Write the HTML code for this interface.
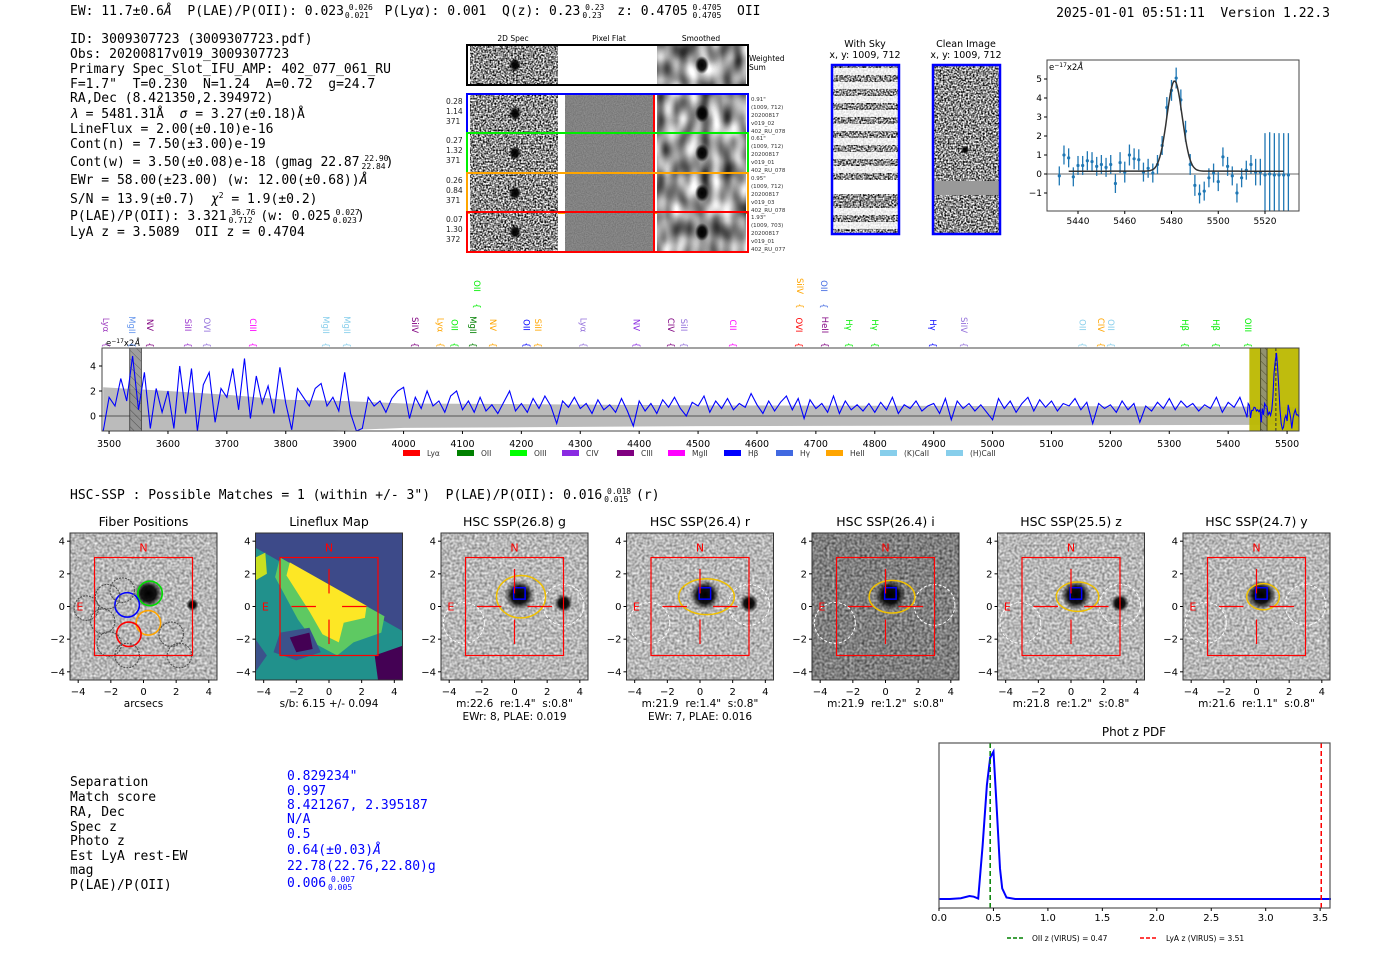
<!DOCTYPE html>
<html><head><meta charset="utf-8">
<style>
html,body{margin:0;padding:0;background:#fff;}
svg{display:block;}
text{white-space:pre;}
.m{font-family:"DejaVu Sans Mono","Liberation Mono",monospace;font-size:13px;fill:#000;}
.s{font-family:"DejaVu Sans","Liberation Sans",sans-serif;}
filter{color-interpolation-filters:sRGB;}
</style></head>
<body>
<svg id="root" width="1400" height="953" viewBox="0 0 1400 953" xmlns="http://www.w3.org/2000/svg" xml:space="preserve">
<defs>
<filter id="nLight" x="0" y="0" width="1" height="1" color-interpolation-filters="sRGB"><feTurbulence type="fractalNoise" baseFrequency="0.4" numOctaves="1" seed="4"/><feColorMatrix type="saturate" values="0"/><feComponentTransfer><feFuncR type="linear" slope="1.0" intercept="0.22"/><feFuncG type="linear" slope="1.0" intercept="0.22"/><feFuncB type="linear" slope="1.0" intercept="0.22"/><feFuncA type="linear" slope="0" intercept="1"/></feComponentTransfer></filter>
<filter id="nDark" x="0" y="0" width="1" height="1" color-interpolation-filters="sRGB"><feTurbulence type="fractalNoise" baseFrequency="0.4" numOctaves="1" seed="7"/><feColorMatrix type="saturate" values="0"/><feComponentTransfer><feFuncR type="linear" slope="1.0" intercept="0.0"/><feFuncG type="linear" slope="1.0" intercept="0.0"/><feFuncB type="linear" slope="1.0" intercept="0.0"/><feFuncA type="linear" slope="0" intercept="1"/></feComponentTransfer></filter>
<filter id="nSpec" x="0" y="0" width="1" height="1" color-interpolation-filters="sRGB"><feTurbulence type="fractalNoise" baseFrequency="0.6" numOctaves="1" seed="2"/><feColorMatrix type="saturate" values="0"/><feComponentTransfer><feFuncR type="linear" slope="3.2" intercept="-1.05"/><feFuncG type="linear" slope="3.2" intercept="-1.05"/><feFuncB type="linear" slope="3.2" intercept="-1.05"/><feFuncA type="linear" slope="0" intercept="1"/></feComponentTransfer></filter>
<filter id="nSmooth" x="0" y="0" width="1" height="1" color-interpolation-filters="sRGB"><feTurbulence type="fractalNoise" baseFrequency="0.09 0.05" numOctaves="1" seed="9"/><feColorMatrix type="saturate" values="0"/><feComponentTransfer><feFuncR type="linear" slope="2" intercept="-0.4"/><feFuncG type="linear" slope="2" intercept="-0.4"/><feFuncB type="linear" slope="2" intercept="-0.4"/><feFuncA type="linear" slope="0" intercept="1"/></feComponentTransfer></filter>
<filter id="nFlat" x="0" y="0" width="1" height="1" color-interpolation-filters="sRGB"><feTurbulence type="fractalNoise" baseFrequency="0.9" numOctaves="1" seed="5"/><feColorMatrix type="saturate" values="0"/><feComponentTransfer><feFuncR type="linear" slope="0.3" intercept="0.36"/><feFuncG type="linear" slope="0.3" intercept="0.36"/><feFuncB type="linear" slope="0.3" intercept="0.36"/><feFuncA type="linear" slope="0" intercept="1"/></feComponentTransfer></filter>
<radialGradient id="blob"><stop offset="0" stop-color="#000"/><stop offset="0.55" stop-color="#000" stop-opacity="0.9"/><stop offset="1" stop-color="#000" stop-opacity="0"/></radialGradient>
<pattern id="hatch" width="6" height="6" patternUnits="userSpaceOnUse" patternTransform="rotate(-45)"><rect width="6" height="6" fill="#888"/><line x1="0" y1="0" x2="0" y2="6" stroke="#333" stroke-width="1"/></pattern>
</defs>

<g>
<text class="m" x="70" y="15">EW: 11.7±0.6<tspan font-style="italic">Å</tspan>  P(LAE)/P(OII): 0.023<tspan font-size="8" dy="-5"> 0.026</tspan><tspan font-size="8" dx="-28" dy="8">0.021</tspan><tspan dy="-3">  P(Ly<tspan font-style="italic">α</tspan>): 0.001  Q(z): 0.23</tspan><tspan font-size="8" dy="-5"> 0.23</tspan><tspan font-size="8" dx="-22" dy="8">0.23</tspan><tspan dy="-3">  z: 0.4705</tspan><tspan font-size="8" dy="-5"> 0.4705</tspan><tspan font-size="8" dx="-29" dy="8">0.4705</tspan><tspan dy="-3">  OII</tspan></text>
<text class="m" x="1330" y="17" text-anchor="end">2025-01-01 05:51:11  Version 1.22.3</text>
</g>

<g>
<text class="m" x="70" y="43">ID: 3009307723 (3009307723.pdf)</text>
<text class="m" x="70" y="58">Obs: 20200817v019_3009307723</text>
<text class="m" x="70" y="73">Primary Spec_Slot_IFU_AMP: 402_077_061_RU</text>
<text class="m" x="70" y="88">F=1.7"  T=0.230  N=1.24  A=0.72  g=24.7</text>
<text class="m" x="70" y="102">RA,Dec (8.421350,2.394972)</text>
<text class="m" x="70" y="118"><tspan font-style="italic">λ</tspan> = 5481.31Å  <tspan font-style="italic">σ</tspan> = 3.27(±0.18)Å</text>
<text class="m" x="70" y="133">LineFlux = 2.00(±0.10)e-16</text>
<text class="m" x="70" y="148">Cont(n) = 7.50(±3.00)e-19</text>
<text class="m" x="70" y="166">Cont(w) = 3.50(±0.08)e-18 (gmag 22.87<tspan font-size="8" dy="-5"> 22.90</tspan><tspan font-size="8" dx="-27" dy="8">22.84</tspan><tspan dy="-3">)</tspan></text>
<text class="m" x="70" y="184">EWr = 58.00(±23.00) (w: 12.00(±0.68))<tspan font-style="italic">Å</tspan></text>
<text class="m" x="70" y="203">S/N = 13.9(±0.7)  <tspan font-style="italic">χ</tspan><tspan font-size="8" dy="-5">2</tspan><tspan dy="5"> = 1.9(±0.2)</tspan></text>
<text class="m" x="70" y="220">P(LAE)/P(OII): 3.321<tspan font-size="8" dy="-5"> 36.76</tspan><tspan font-size="8" dx="-27" dy="8">0.712</tspan><tspan dy="-3"> (w: 0.025</tspan><tspan font-size="8" dy="-5"> 0.027</tspan><tspan font-size="8" dx="-27" dy="8">0.023</tspan><tspan dy="-3">)</tspan></text>
<text class="m" x="70" y="236">LyA z = 3.5089  OII z = 0.4704</text>
</g>

<g id="cutouts"></g>
<g id="zoomplot"></g>
<g id="mainspec"></g>

<text class="m" x="70" y="499">HSC-SSP : Possible Matches = 1 (within +/- 3")  P(LAE)/P(OII): 0.016<tspan font-size="8" dy="-5"> 0.018</tspan><tspan font-size="8" dx="-27" dy="8">0.015</tspan><tspan dy="-3"> (r)</tspan></text>
<g id="hsc"></g>

<g>
<g class="m">
<text x="70" y="786">Separation</text>
<text x="70" y="801">Match score</text>
<text x="70" y="816">RA, Dec</text>
<text x="70" y="831">Spec z</text>
<text x="70" y="845">Photo z</text>
<text x="70" y="860">Est LyA rest-EW</text>
<text x="70" y="874">mag</text>
<text x="70" y="889">P(LAE)/P(OII)</text>
</g>
<g class="m" style="fill:#0000ff">
<text x="287" y="780" fill="#00f">0.829234"</text>
<text x="287" y="795" fill="#00f">0.997</text>
<text x="287" y="809" fill="#00f">8.421267, 2.395187</text>
<text x="287" y="823" fill="#00f">N/A</text>
<text x="287" y="838" fill="#00f">0.5</text>
<text x="287" y="854" fill="#00f">0.64(±0.03)<tspan font-style="italic">Å</tspan></text>
<text x="287" y="870" fill="#00f">22.78(22.76,22.80)g</text>
<text x="287" y="887" fill="#00f">0.006<tspan font-size="8" dy="-5"> 0.007</tspan><tspan font-size="8" dx="-27" dy="8">0.005</tspan></text>
</g>
</g>

<g id="photz"></g>
</svg>

<script>
// ===== Data =====
const specStart = 3490;
const specStep = 10;
const specFlux = [
-1.2,1.5,0.8,3.0,1.2,4.8,0.5,3.5,-1.0,2.2,0.3,
2.0,-1.0,4.0,0.2,3.8,-1.2,2.5,3.5,-0.5,2.2,
1.5,3.8,0.5,4.6,-0.2,3.2,1.0,2.4,0.2,3.9,
1.0,-1.1,2.2,1.5,0.8,2.2,2.6,0.8,1.5,0.4,
3.5,0.2,-1.2,-1.0,1.5,0.8,1.2,0.3,1.4,2.0,
2.3,-0.2,1.5,0.6,2.0,0.8,1.2,0.3,1.6,2.0,
0.5,1.2,0.3,1.5,0.4,0.9,0.2,1.1,2.0,0.4,
1.0,0.3,1.4,0.6,1.6,0.8,-0.6,1.2,0.7,1.5,
0.6,1.0,0.2,1.3,0.5,0.9,0.3,1.4,0.4,-0.8,
1.2,0.4,1.0,0.2,1.3,0.7,1.5,0.6,0.0,1.1,
0.8,1.6,0.3,1.2,0.6,1.4,0.5,1.0,0.7,1.8,
0.9,0.2,1.2,0.4,1.1,1.6,0.5,1.4,-0.2,1.3,
0.6,1.0,0.3,1.6,0.2,1.2,0.5,0.9,0.4,1.0,
0.3,1.1,0.5,1.5,0.2,0.9,0.6,1.2,0.4,0.8,
1.0,0.2,1.4,-0.3,1.2,0.6,1.0,0.4,0.9,0.3,
-0.3,1.4,0.6,1.2,0.3,1.0,1.5,0.4,1.3,0.7,
1.2,0.4,1.0,0.8,1.4,0.5,1.1,-0.6,1.0,0.6,
0.9,0.3,1.2,0.5,1.0,-0.5,0.8,0.4,1.1,0.6,
1.4,0.5,1.2,0.7,1.0,0.4,0.9,0.6,1.5,0.3,
1.1,0.7,1.5,0.2
];
const errWave = [3490,3600,3700,3800,3900,4000,4200,4500,5000,5440,5525];
const errVal  = [2.3,2.0,1.7,1.3,1.2,1.0,0.95,0.85,0.8,0.75,0.7];

const fitWave = [5432,5434,5436,5438,5440,5442,5444,5446,5448,5450,5452,5454,5456,5458,5460,5462,5464,5466,5468,5470,5472,5474,5476,5478,5480,5482,5484,5486,5488,5490,5492,5494,5496,5498,5500,5502,5504,5506,5508,5510,5512,5514,5516,5518,5520,5522,5524,5526,5528,5530];
const fitFlux = [-0.1,1.0,0.85,-0.15,0.45,0.45,0.7,0.65,0.4,0.5,0.35,0.5,-0.5,0.6,0.1,1.0,0.8,0.75,0.1,0.3,0.05,0.5,1.5,3.5,4.4,5.05,3.9,2.25,0.5,-0.6,-1.05,-0.9,-0.2,0.05,-0.4,0.9,0.4,-0.1,-1.0,-0.2,0.2,0.5,0.1,0.1,-0.05,0.0,-0.05,-0.05,-0.05,-0.05];
const fitErr  = [0.5,0.5,0.5,0.5,0.5,0.5,0.5,0.5,0.5,0.5,0.5,0.5,0.5,0.55,0.55,0.55,0.55,0.55,0.5,0.5,0.5,0.5,0.5,0.55,0.55,0.55,0.55,0.55,0.55,0.55,0.5,0.5,0.5,0.5,0.5,0.5,0.5,0.5,0.5,0.5,0.5,0.5,0.7,0.7,2.2,2.2,2.2,2.2,2.2,2.2];
const gaussCenter = 5481.31, gaussSigma = 3.27, gaussAmp = 4.75, gaussCont = 0.15;

const lineNames  = ["Lyα","MgII","NV","SiII","OVI","CIII","MgII","MgII","SiIV","Lyα","OII","MgII","NV","OII","SiII","Lyα","NV","CIV","SiII","CII","OVI","HeII","Hγ","Hγ","Hγ","SiIV","OII","CIV","OII","Hβ","Hβ","OIII","OII","SiIV","OII"];
const lineWaves  = [3490,3534,3564,3629,3661,3739,3863,3899,4014,4058,4081,4113,4147,4204,4223,4300,4390,4449,4471,4554,4666,4710,4751,4795,4894,4946,5148,5179,5196,5322,5374,5429,4120,4668,4709];
const lineColors = ["#a040c0","#6495ed","#800080","#9932cc","#9370db","#ff00ff","#87ceeb","#87ceeb","#800080","#ffa500","#00ee00","#008000","#ffa500","#0000ff","#ffa500","#9370db","#8a2be2","#800080","#9370db","#ff00ff","#ff0000","#800080","#00ee00","#00ee00","#0000ff","#9370db","#87ceeb","#ffa500","#87ceeb","#00ee00","#00ee00","#00ee00","#00ee00","#ffa500","#4169e1"];
const lineRow    = [0,0,0,0,0,0,0,0,0,0,0,0,0,0,0,0,0,0,0,0,0,0,0,0,0,0,0,0,0,0,0,0,1,1,1];

const legendNames  = ["Lyα","OII","OIII","CIV","CIII","MgII","Hβ","Hγ","HeII","(K)CaII","(H)CaII"];
const legendColors = ["#ff0000","#008000","#00ff00","#8a2be2","#800080","#ff00ff","#0000ff","#4169e1","#ffa500","#87ceeb","#87ceeb"];

const specTicks = [3500,3600,3700,3800,3900,4000,4100,4200,4300,4400,4500,4600,4700,4800,4900,5000,5100,5200,5300,5400,5500];
const specYTicks = [0,2,4];
const zoomXTicks = [5440,5460,5480,5500,5520];
const zoomYTicks = [-1,0,1,2,3,4,5];

const photZ = [0,0.1,0.2,0.28,0.32,0.36,0.40,0.44,0.47,0.50,0.53,0.56,0.58,0.62,0.7,1.0,2.0,3.0,3.6];
const photP = [0,0,0.005,0.02,0.015,0.003,0.35,0.75,0.93,0.97,0.6,0.2,0.07,0.01,0,0,0,0,0];
const photTicks = [0.0,0.5,1.0,1.5,2.0,2.5,3.0,3.5];
const oiiZ = 0.47, lyaZ = 3.51;

const panelTitles = ["Fiber Positions","Lineflux Map","HSC SSP(26.8) g","HSC SSP(26.4) r","HSC SSP(26.4) i","HSC SSP(25.5) z","HSC SSP(24.7) y"];
const panelSub1 = ["arcsecs","s/b: 6.15 +/- 0.094","m:22.6  re:1.4\"  s:0.8\"","m:21.9  re:1.4\"  s:0.8\"","m:21.9  re:1.2\"  s:0.8\"","m:21.8  re:1.2\"  s:0.8\"","m:21.6  re:1.1\"  s:0.8\""];
const panelSub2 = ["","","EWr: 8, PLAE: 0.019","EWr: 7, PLAE: 0.016","","",""];
const ellipseRx = [0,0,1.5,1.7,1.4,1.3,1.0];
const ellipseRy = [0,0,1.3,1.1,1.0,0.9,0.8];
const hscTicks = [-4,-2,0,2,4];

const fiberX = [0.4,-1.0,0.3,-0.9,-2.2,-3.5,-2.5,-2.1,-1.0,1.7,2.2,-1.3];
const fiberY = [0.8,0.1,-1.0,-1.7,0.6,-0.1,-0.9,-2.3,-3.0,-1.7,-3.0,1.0];
const fiberC = ["#00dd00","#0000ff","#ffa500","#ff0000","#555","#555","#555","#555","#555","#555","#555","#555"];

// ===== Helpers =====
const NS = "http://www.w3.org/2000/svg";
function mk(tag, attrs, parent){ const e=document.createElementNS(NS,tag); for(const k in attrs) e.setAttribute(k,attrs[k]); parent.appendChild(e); return e; }
function txt(str, attrs, parent){ const e=mk("text",attrs,parent); e.textContent=str; return e; }

// ===== Cutouts =====
(function(){
  const g=document.getElementById("cutouts");
  const hdr=[["2D Spec",513],["Pixel Flat",609],["Smoothed",701]];
  hdr.forEach(h=>{ const t=txt(h[0],{x:h[1],y:41,"text-anchor":"middle","font-size":"7.5",class:"s"},g);
    
     });
  const rows=[{y:46,h:38,c:"#000",l:null,info:null},
    {y:95,h:37,c:"#0000ff",l:["0.28","1.14","371"],info:["0.91\"","(1009, 712)","20200817","v019_02","402_RU_078"]},
    {y:134,h:38,c:"#00ee00",l:["0.27","1.32","371"],info:["0.61\"","(1009, 712)","20200817","v019_01","402_RU_078"]},
    {y:174,h:38,c:"#ffa500",l:["0.26","0.84","371"],info:["0.95\"","(1009, 712)","20200817","v019_03","402_RU_078"]},
    {y:213,h:38,c:"#ff0000",l:["0.07","1.30","372"],info:["1.93\"","(1009, 703)","20200817","v019_01","402_RU_077"]}];
  rows.forEach((r,i)=>{
    const rg=mk("g",{},g);
    
    
    mk("rect",{x:470,y:r.y,width:88,height:r.h,filter:"url(#nSpec)"},rg);
    mk("ellipse",{cx:515,cy:r.y+r.h/2,rx:6,ry:7,fill:"url(#blob)"},rg);
    if(i===0){ mk("rect",{x:560,y:r.y,width:96,height:r.h,fill:"#fff"},rg); }
    else { mk("rect",{x:565,y:r.y,width:88,height:r.h,filter:"url(#nFlat)"},rg); mk("line",{x1:654,y1:r.y,x2:654,y2:r.y+r.h,stroke:"#f00","stroke-width":2},rg); }
    mk("rect",{x:657,y:r.y,width:89,height:r.h,filter:"url(#nSmooth)"},rg);
    mk("ellipse",{cx:702,cy:r.y+r.h/2,rx:7,ry:9,fill:"url(#blob)"},rg);
    mk("rect",{x:467,y:r.y-1,width:281,height:r.h+2,fill:"none",stroke:r.c,"stroke-width":2},rg);
    if(r.l){ r.l.forEach((s,k)=>txt(s,{x:446,y:r.y+9+k*10,"font-size":"7.5",class:"s",fill:"#222"},rg)); }
    if(r.info){ r.info.forEach((s,k)=>txt(s,{x:751,y:r.y+6+k*8,"font-size":"5.5",class:"s",fill:"#333"},rg)); }
    else { txt("Weighted",{x:749,y:61,"font-size":"7.5",class:"s"},rg); txt("Sum",{x:749,y:70,"font-size":"7.5",class:"s"},rg); }
  });
  const sk=mk("g",{},g);
  
  
  txt("With Sky",{x:865,y:47,"text-anchor":"middle","font-size":"9.5",class:"s"},sk);
  txt("x, y: 1009, 712",{x:865,y:58,"text-anchor":"middle","font-size":"9.5",class:"s"},sk);
  mk("rect",{x:832,y:65,width:67,height:169,filter:"url(#nSpec)"},sk);
  for(let k=0;k<12;k++){ if(k===9) continue; mk("rect",{x:832,y:68+k*14,width:67,height:7,fill:"#fff",opacity:0.85},sk); }
  mk("rect",{x:832,y:180,width:67,height:14,fill:"#fff"},sk);
  mk("rect",{x:832,y:65,width:67,height:169,fill:"none",stroke:"#00f","stroke-width":2.5},sk);
  const cl=mk("g",{},g);
  
  
  txt("Clean Image",{x:966,y:47,"text-anchor":"middle","font-size":"9.5",class:"s"},cl);
  txt("x, y: 1009, 712",{x:966,y:58,"text-anchor":"middle","font-size":"9.5",class:"s"},cl);
  mk("rect",{x:933,y:65,width:67,height:169,filter:"url(#nSpec)"},cl);
  mk("rect",{x:933,y:181,width:67,height:14,fill:"#999"},cl);
  mk("ellipse",{cx:965,cy:150,rx:4,ry:4,fill:"url(#blob)"},cl);
  mk("rect",{x:933,y:65,width:67,height:169,fill:"none",stroke:"#00f","stroke-width":2.5},cl);
})();

// ===== Zoom fit plot =====
(function(){
  const g=document.getElementById("zoomplot");
  const L=1047,R=1299,T=60,B=211;
  const zx=w=>1078+(w-5440)*2.3375, zy=f=>174-f*19;
  mk("line",{x1:L,y1:zy(0),x2:R,y2:zy(0),stroke:"#888","stroke-width":1.2},g);
  fitWave.forEach((w,i)=>{
    const lo=Math.min(zy(fitFlux[i]-fitErr[i]),B), hi=zy(fitFlux[i]+fitErr[i]);
    const e=mk("line",{x1:zx(w),y1:lo,x2:zx(w),y2:hi,stroke:"#1f77b4","stroke-width":1.3},g);
    
    
    const p=mk("circle",{cx:zx(w),cy:zy(fitFlux[i]),r:1.6,fill:"#1f77b4"},g);
    
    
  });
  let d="";
  for(let w=5436;w<=5528;w+=0.5){ const f=gaussCont+gaussAmp*Math.exp(-0.5*Math.pow((w-gaussCenter)/gaussSigma,2)); d+=(d?"L":"M")+zx(w).toFixed(1)+","+zy(f).toFixed(1); }
  const fit=mk("path",{d:d,fill:"none",stroke:"#333","stroke-width":1.5},g);
  
  
  mk("rect",{x:L,y:T,width:R-L,height:B-T,fill:"none",stroke:"#444","stroke-width":1},g);
  zoomXTicks.forEach(t=>{ mk("line",{x1:zx(t),y1:B,x2:zx(t),y2:B+3,stroke:"#000"},g);
    const tl=txt(String(t),{x:zx(t),y:224,"text-anchor":"middle","font-size":"9",class:"s"},g);
    
     });
  zoomYTicks.forEach(t=>{ mk("line",{x1:L-3,y1:zy(t),x2:L,y2:zy(t),stroke:"#000"},g);
    const tl=txt(t<0?"−"+(-t):String(t),{x:L-5,y:zy(t)+3,"text-anchor":"end","font-size":"9",class:"s"},g);
    
     });
  const u=txt("e",{x:1049,y:70,"font-size":"8.5",class:"s"},g);
  u.innerHTML='e<tspan font-size="6" dy="-3">−17</tspan><tspan dy="3">x2</tspan><tspan font-style="italic">Å</tspan>';
  
  
})();

// ===== Main spectrum =====
(function(){
  const g=document.getElementById("mainspec");
  const L=102,R=1299,T=348,B=431;
  const sx=w=>102+(w-3488)*0.589, sy=f=>416-f*12.5;
  const clip=mk("clipPath",{id:"specclip"},g); mk("rect",{x:L,y:T,width:R-L,height:B-T},clip);
  const cg=mk("g",{"clip-path":"url(#specclip)"},g);
  let up="",dn="";
  for(let i=0;i<errWave.length;i++){ up+=(i?"L":"M")+sx(errWave[i]).toFixed(1)+","+sy(errVal[i]).toFixed(1); }
  for(let i=errWave.length-1;i>=0;i--){ dn+="L"+sx(errWave[i]).toFixed(1)+","+sy(-errVal[i]*0.95).toFixed(1); }
  const band=mk("path",{d:up+dn+"Z",fill:"#bbbbbb"},cg);
  
  
  mk("line",{x1:L,y1:sy(0),x2:R,y2:sy(0),stroke:"#777","stroke-width":1.5},cg);
  const yw=mk("rect",{x:sx(5436),y:T,width:sx(5525)-sx(5436),height:B-T,fill:"#bcb800",opacity:0.95},cg);
  
  
  mk("rect",{x:sx(3535),y:T,width:sx(3555)-sx(3535),height:B-T,fill:"url(#hatch)",opacity:0.8,stroke:"#333"},cg);
  mk("rect",{x:sx(5455),y:T,width:sx(5466)-sx(5455),height:B-T,fill:"url(#hatch)",opacity:0.8,stroke:"#333"},cg);
  mk("line",{x1:sx(5481),y1:T,x2:sx(5481),y2:B,stroke:"#333","stroke-dasharray":"3,2"},cg);
  let d="";
  specFlux.forEach((f,i)=>{ const w=specStart+i*specStep; if(w<5432) d+=(d?"L":"M")+sx(w).toFixed(1)+","+sy(f).toFixed(1); });
  fitWave.forEach((w,i)=>{ if(w<=5525) d+="L"+sx(w).toFixed(1)+","+sy(fitFlux[i]).toFixed(1); });
  const ln=mk("path",{d:d,fill:"none",stroke:"#0000ff","stroke-width":1.1},cg);
  
  
  mk("rect",{x:L,y:T,width:R-L,height:B-T,fill:"none",stroke:"#444","stroke-width":1},g);
  specTicks.forEach(t=>{ mk("line",{x1:sx(t),y1:B,x2:sx(t),y2:B+3,stroke:"#000"},g);
    const tl=txt(String(t),{x:sx(t),y:447,"text-anchor":"middle","font-size":"9.5",class:"s"},g);
    
     });
  specYTicks.forEach(t=>{ mk("line",{x1:L-3,y1:sy(t),x2:L,y2:sy(t),stroke:"#000"},g);
    const tl=txt(String(t),{x:L-6,y:sy(t)+3.5,"text-anchor":"end","font-size":"9.5",class:"s"},g);
    
     });
  const u=txt("e",{x:106,y:346,"font-size":"8.5",class:"s"},g);
  u.innerHTML='e<tspan font-size="6" dy="-3">−17</tspan><tspan dy="3">x2</tspan><tspan font-style="italic">Å</tspan>';
  
  
  lineNames.forEach((n,i)=>{
    const x=sx(lineWaves[i]); const yc=lineRow[i]?291:330;
    const lg=mk("g",{},g);
    
    
    txt(n,{x:x+3,y:yc-8,"font-size":"8.5",class:"s",fill:lineColors[i],transform:`rotate(90 ${x} ${yc-8})`,"text-anchor":"middle"},lg);
    txt("{",{x:x+3,y:yc+12,"font-size":"8.5",class:"s",fill:lineColors[i],transform:`rotate(90 ${x} ${yc+12})`,"text-anchor":"middle"},lg);
  });
  const lx=[403,457,510,562,617,668,724,776,826,880,946];
  legendNames.forEach((n,i)=>{
    const lg=mk("g",{},g);
    
    
    mk("rect",{x:lx[i],y:450,width:17,height:6,fill:legendColors[i]},lg);
    txt(n,{x:lx[i]+24,y:456,"font-size":"7.5",class:"s",fill:"#333"},lg);
  });
})();

// ===== HSC panels =====
(function(){
  const g=document.getElementById("hsc");
  panelTitles.forEach((title,i)=>{
    const x0=70+i*185.5, y0=533, W=147;
    const px=v=>x0+W/2+v*16.33, py=v=>y0+W/2-v*16.33;
    const pg=mk("g",{},g);
    
    
    const t=txt(title,{x:x0+W/2,y:526,"text-anchor":"middle","font-size":"12.5",class:"s"},pg);
    
    
    if(i===1){
      mk("rect",{x:x0,y:y0,width:W,height:W,fill:"#3d4a89"},pg);
      const poly=(pts,fill)=>mk("polygon",{points:pts.map(p=>px(p[0]).toFixed(1)+","+py(p[1]).toFixed(1)).join(" "),fill:fill},pg);
      poly([[-4.5,3.6],[4.5,-1.5],[4.5,-4.5],[-4.5,-4.5]],"#21918c");
      poly([[-4.5,3.0],[-3.9,3.3],[-3.8,2.0],[-4.5,1.6]],"#c8e020");
      poly([[-3.0,3.0],[3.4,-0.6],[3.2,-1.6],[1.5,-2.2],[0.5,-3.0],[-0.8,-2.3],[-1.9,-0.8],[-3.3,1.8]],"#5ec962");
      poly([[-2.4,2.7],[2.3,0.05],[2.2,-0.7],[0.9,-1.0],[0.6,-2.2],[-0.4,-1.7],[-1.2,-0.3],[-2.6,1.9]],"#fde725");
      poly([[-3.0,-1.6],[-1.2,-1.3],[-0.5,-2.8],[-2.0,-3.3],[-3.4,-2.8]],"#3b528b");
      poly([[-2.4,-1.9],[-1.2,-1.6],[-1.0,-2.6],[-2.0,-2.8]],"#440154");
      poly([[2.8,-3.0],[4.5,-2.4],[4.5,-4.5],[3.0,-4.5]],"#440154");
      poly([[-4.5,-2.0],[-3.8,-3.0],[-4.5,-4.0]],"#3b528b");
    } else {
      const f = i===4 ? "url(#nDark)" : "url(#nLight)";
      mk("rect",{x:x0,y:y0,width:W,height:W,filter:f},pg);
      if(i===0){
        mk("circle",{cx:px(0.3),cy:py(0.8),r:14,fill:"url(#blob)"},pg);
        mk("circle",{cx:px(3),cy:py(0.1),r:6,fill:"url(#blob)"},pg);
      } else {
        mk("circle",{cx:px(0.3),cy:py(0.7),r:15,fill:"url(#blob)"},pg);
        if(i===2||i===3||i===5) mk("circle",{cx:px(3),cy:py(0.2),r:9,fill:"url(#blob)"},pg);
        mk("circle",{cx:px(3),cy:py(0.1),r:1.25*16.33,fill:"none",stroke:"#fff","stroke-dasharray":"3,2","stroke-width":1},pg);
        mk("circle",{cx:px(-3.1),cy:py(-1.0),r:1.25*16.33,fill:"none",stroke:"#fff","stroke-dasharray":"3,2","stroke-width":1},pg);
        mk("ellipse",{cx:px(0.4),cy:py(0.6),rx:ellipseRx[i]*16.33,ry:ellipseRy[i]*16.33,fill:"none",stroke:"#f0c000","stroke-width":1.5},pg);
        mk("rect",{x:px(-0.05),y:py(1.15),width:0.7*16.33,height:0.7*16.33,fill:"none",stroke:"#00f","stroke-width":1.5},pg);
      }
    }
    if(i===0){
      fiberX.forEach((fx,k)=>{ const c=mk("circle",{cx:px(fx),cy:py(fiberY[k]),r:0.75*16.33,fill:"none",stroke:fiberC[k],"stroke-width":k<4?1.6:1.2,"stroke-dasharray":k<4?"none":"2,1"},pg);
        
         });
    }
    mk("rect",{x:px(-3),y:py(3),width:6*16.33,height:6*16.33,fill:"none",stroke:"#f00","stroke-width":1.2},pg);
    if(i>0){
      [[-2.3,-0.8,0,0],[0.8,2.3,0,0],[0,0,2.3,0.8],[0,0,-0.8,-2.3]].forEach(s=>{
        mk("line",{x1:px(s[0]),y1:py(s[2]),x2:px(s[1]),y2:py(s[3]),stroke:"#f00","stroke-width":1.2},pg); });
    }
    txt("N",{x:px(0),y:py(3.6)+4,"text-anchor":"middle","font-size":"11",class:"s",fill:"#f00"},pg);
    txt("E",{x:px(-3.9),y:py(0)+4,"text-anchor":"middle","font-size":"11",class:"s",fill:"#f00"},pg);
    mk("rect",{x:x0,y:y0,width:W,height:W,fill:"none",stroke:"#333","stroke-width":1},pg);
    hscTicks.forEach(t=>{
      mk("line",{x1:px(t),y1:y0+W,x2:px(t),y2:y0+W+3,stroke:"#000"},pg);
      txt(t<0?"−"+(-t):String(t),{x:px(t),y:695,"text-anchor":"middle","font-size":"10",class:"s"},pg);
      mk("line",{x1:x0-3,y1:py(t),x2:x0,y2:py(t),stroke:"#000"},pg);
      txt(t<0?"−"+(-t):String(t),{x:x0-5,y:py(t)+3.5,"text-anchor":"end","font-size":"10",class:"s"},pg);
    });
    const s1=txt(panelSub1[i],{x:x0+W/2,y:707,"text-anchor":"middle","font-size":"10.5",class:"s"},pg);
    
    
    if(panelSub2[i]){ const s2=txt(panelSub2[i],{x:x0+W/2,y:720,"text-anchor":"middle","font-size":"10.5",class:"s"},pg);
      
       }
  });
})();

// ===== Phot z PDF =====
(function(){
  const g=document.getElementById("photz");
  const L=939,R=1330,T=743,B=908;
  const zx=z=>939+z*108.9, zy=p=>899-p*152;
  txt("Phot z PDF",{x:1134,y:736,"text-anchor":"middle","font-size":"12",class:"s"},g);
  let d=""; photZ.forEach((z,i)=>{ d+=(i?"L":"M")+zx(z).toFixed(1)+","+zy(photP[i]).toFixed(1); });
  const ln=mk("path",{d:d,fill:"none",stroke:"#0000ff","stroke-width":2},g);
  
  
  const o=mk("line",{x1:zx(oiiZ),y1:T,x2:zx(oiiZ),y2:B,stroke:"#008000","stroke-width":1.5,"stroke-dasharray":"5,3"},g);
  
  
  const l=mk("line",{x1:zx(lyaZ),y1:T,x2:zx(lyaZ),y2:B,stroke:"#ff0000","stroke-width":1.5,"stroke-dasharray":"5,3"},g);
  
  
  mk("rect",{x:L,y:T,width:R-L,height:B-T,fill:"none",stroke:"#555","stroke-width":1.2},g);
  photTicks.forEach(t=>{ mk("line",{x1:zx(t),y1:B,x2:zx(t),y2:B+3,stroke:"#000"},g);
    const tl=txt(t.toFixed(1),{x:zx(t),y:921,"text-anchor":"middle","font-size":"10",class:"s"},g);
    
     });
  const lg1=mk("g",{},g);
  
  
  mk("line",{x1:1007,y1:938,x2:1025,y2:938,stroke:"#008000","stroke-width":1.5,"stroke-dasharray":"4,2"},lg1);
  txt("OII z (VIRUS) = 0.47",{x:1032,y:941,"font-size":"7.5",class:"s"},lg1);
  const lg2=mk("g",{},g);
  
  
  mk("line",{x1:1140,y1:938,x2:1158,y2:938,stroke:"#ff0000","stroke-width":1.5,"stroke-dasharray":"4,2"},lg2);
  txt("LyA z (VIRUS) = 3.51",{x:1166,y:941,"font-size":"7.5",class:"s"},lg2);
})();
</script>
</body></html>
